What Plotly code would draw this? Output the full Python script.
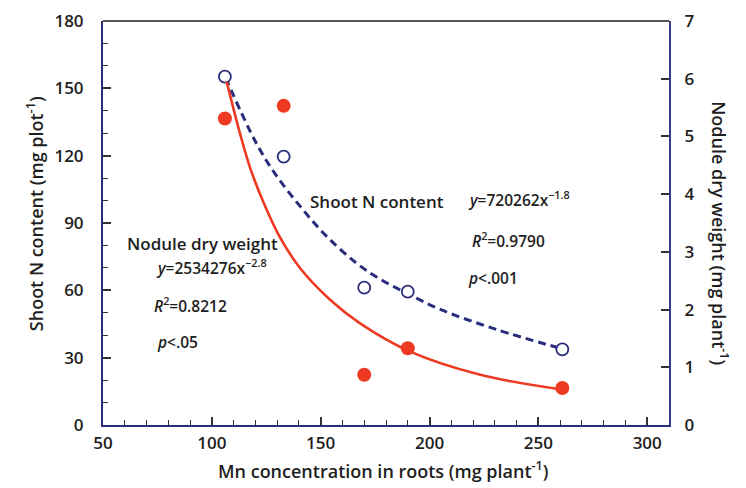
import plotly.graph_objects as go

# Data
mn_roots = [106, 133, 170, 190, 261]
shoot_n = [155.2, 119.6, 61.2, 59.4, 33.7]          # left axis (mg plot-1)
nodule_dw = [5.31, 5.53, 0.87, 1.33, 0.64]          # right axis (mg plant-1)

# Fitted curves as drawn in the picture
shoot_fit_x = [106.3, 119.9, 129.0, 140.5, 152.8, 166.6, 177.3, 190.0, 204.9, 230.9, 260.0]
shoot_fit_y = [154.8, 126.5, 112.0, 97.5, 84.0, 72.0, 65.0, 58.5, 51.5, 42.5, 34.2]
nodule_fit_x = [106.8, 113.3, 117.9, 123.7, 130.6, 140.5, 154.3, 168.1, 190.6, 223.3, 260.0]
nodule_fit_y = [5.95, 5.00, 4.42, 3.86, 3.30, 2.72, 2.17, 1.76, 1.28, 0.87, 0.62]

x_ticks = [50, 100, 150, 200, 250, 300]
y_left_ticks = [0, 30, 60, 90, 120, 150, 180]
y_right_ticks = [0, 1, 2, 3, 4, 5, 6, 7]

NAVY = "#2a2d7c"
RED = "#ee3a22"
FONT = "Open Sans"

fig = go.Figure()

fig.add_trace(go.Scatter(
    x=nodule_fit_x, y=nodule_fit_y, yaxis="y2", mode="lines",
    line=dict(color=RED, width=2.6, shape="spline", smoothing=1.0), showlegend=False, hoverinfo="skip"))
fig.add_trace(go.Scatter(
    x=shoot_fit_x, y=shoot_fit_y, mode="lines",
    line=dict(color=NAVY, width=3, dash="8px,5px", shape="spline", smoothing=1.0), showlegend=False, hoverinfo="skip"))
fig.add_trace(go.Scatter(
    x=mn_roots, y=nodule_dw, yaxis="y2", mode="markers",
    marker=dict(color=RED, size=14, line=dict(width=0)), showlegend=False))
fig.add_trace(go.Scatter(
    x=mn_roots, y=shoot_n, mode="markers",
    marker=dict(color="white", size=12, line=dict(color=NAVY, width=1.8)), showlegend=False))

tickfont = dict(family=FONT, size=17, color="#1e1e1e", weight=600)

fig.update_layout(
    width=746, height=488,
    margin=dict(l=103, r=77, t=21, b=63, autoexpand=False),
    paper_bgcolor="white", plot_bgcolor="white",
    xaxis=dict(
        range=[50, 310], tickmode="array", tickvals=x_ticks,
        ticks="inside", ticklen=8, tickwidth=1.5, tickcolor="#333",
        minor=dict(dtick=10, ticks="inside", ticklen=5, tickwidth=1.2, tickcolor="#333"),
        showline=True, linecolor=NAVY, linewidth=2, mirror=False,
        showgrid=False, zeroline=False, tickfont=tickfont, ticklabelstandoff=2,
    ),
    yaxis=dict(
        range=[0, 180], tickmode="array", tickvals=y_left_ticks,
        ticks="inside", ticklen=8, tickwidth=1.5, tickcolor="#333",
        minor=dict(dtick=10, ticks="inside", ticklen=5, tickwidth=1.2, tickcolor="#333"),
        showline=True, linecolor=NAVY, linewidth=2,
        showgrid=False, zeroline=False, tickfont=tickfont, ticklabelstandoff=14,
    ),
    yaxis2=dict(
        range=[0, 7], tickmode="array", tickvals=y_right_ticks,
        overlaying="y", side="right",
        ticks="inside", ticklen=8, tickwidth=1.5, tickcolor="#333",
        showline=True, linecolor="#3a3a8a", linewidth=2,
        showgrid=False, zeroline=False, tickfont=tickfont, ticklabelstandoff=10,
    ),
    shapes=[dict(type="line", xref="paper", yref="paper", x0=0, x1=1, y0=1, y1=1,
                 line=dict(color="#555", width=2))],
)

title_font = dict(family=FONT, size=18, color="#1e1e1e", weight=600)
lab_font = dict(family=FONT, size=17, color="#1e1e1e", weight=600)
eq_font = dict(family=FONT, size=15.5, color="#1e1e1e", weight=600)

ann = [
    dict(text="Mn concentration in roots (mg plant<sup>-1</sup>)", x=0.496, y=-0.111,
         font=title_font, xanchor="center", yanchor="middle"),
    dict(text="Shoot N content (mg plot<sup>-1</sup>)", x=-0.120, y=0.522, textangle=-90,
         font=title_font, xanchor="center", yanchor="middle"),
    dict(text="Nodule dry weight (mg plant<sup>-1</sup>)", x=1.090, y=0.475, textangle=90,
         font=title_font, xanchor="center", yanchor="middle"),
    dict(text="Nodule dry weight", x=0.039, y=0.450, font=lab_font, xanchor="left", yanchor="middle"),
    dict(text="<i>y</i>=2534276x<sup>−2.8</sup>", x=0.090, y=0.391, font=eq_font, xanchor="left", yanchor="middle"),
    dict(text="<i>R</i><sup>2</sup>=0.8212", x=0.087, y=0.297, font=eq_font, xanchor="left", yanchor="middle"),
    dict(text="<i>p</i><.05", x=0.091, y=0.205, font=eq_font, xanchor="left", yanchor="middle"),
    dict(text="Shoot N content", x=0.362, y=0.554, font=lab_font, xanchor="left", yanchor="middle"),
    dict(text="<i>y</i>=720262x<sup>−1.8</sup>", x=0.641, y=0.559, font=eq_font, xanchor="left", yanchor="middle"),
    dict(text="<i>R</i><sup>2</sup>=0.9790", x=0.648, y=0.458, font=eq_font, xanchor="left", yanchor="middle"),
    dict(text="<i>p</i><.001", x=0.641, y=0.364, font=eq_font, xanchor="left", yanchor="middle"),
]
for a in ann:
    a.update(xref="paper", yref="paper", showarrow=False)
fig.update_layout(annotations=ann)

fig.write_html("out.html")
